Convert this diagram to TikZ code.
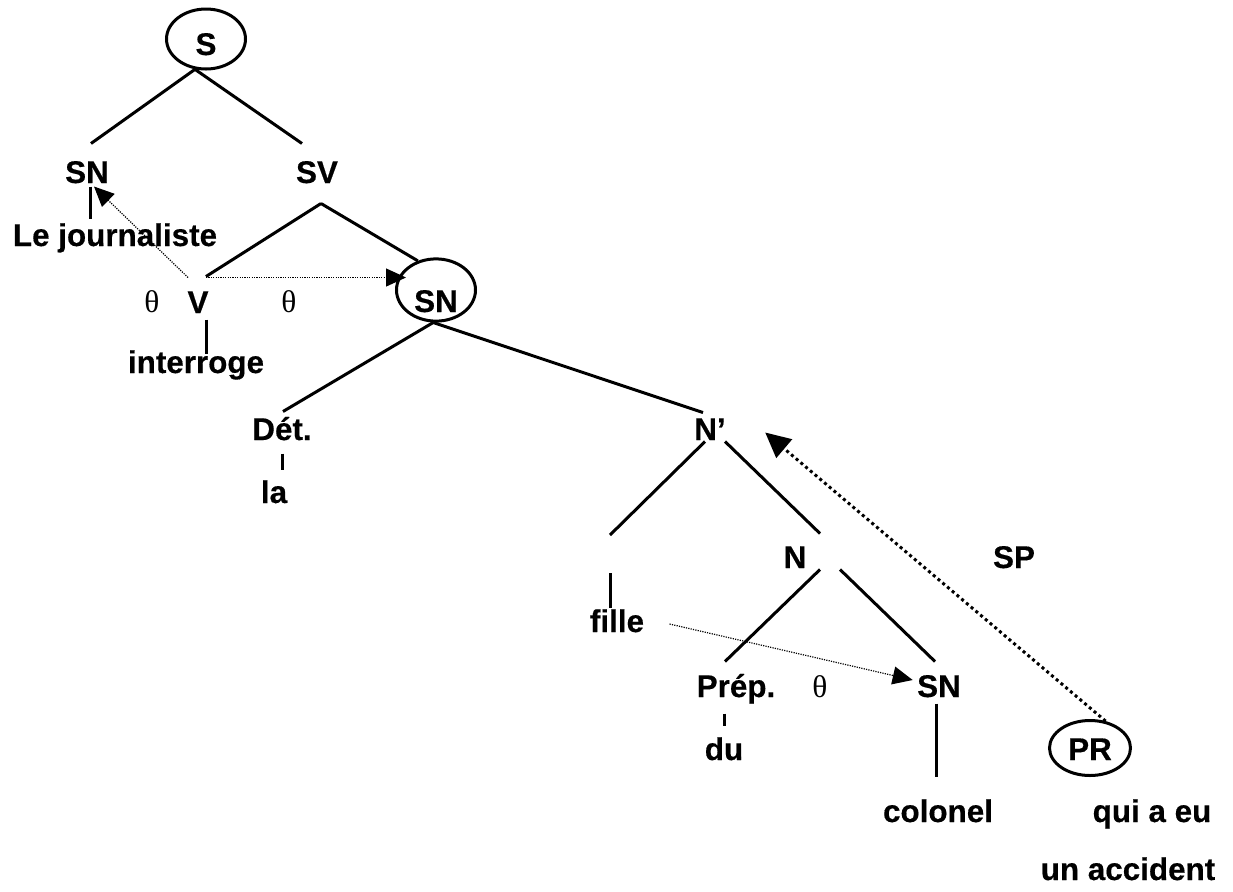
\documentclass[tikz,border=0pt]{standalone}
\usepackage{fontspec}
\setmainfont[BoldFeatures={FakeBold=0.4}]{Liberation Sans}
\newfontfamily\thetafont{Liberation Serif}
\usetikzlibrary{arrows.meta, shapes.geometric}

\begin{document}
\begin{tikzpicture}[x=0.5pt, y=-0.5pt, >={Triangle[length=10pt,width=9pt]}, line width=1.5pt]
        \tikzstyle{syn} = [font=\fontsize{15.7}{18}\selectfont\bfseries, inner sep=0pt, text height=11.5pt, text depth=0pt, anchor=base]
        \tikzstyle{circled} = [ellipse, draw, line width=1.5pt, inner sep=0pt, text depth=0pt, font=\fontsize{15.7}{18}\selectfont\bfseries]
        \tikzstyle{role} = [font=\fontsize{15.7}{18}\selectfont\thetafont, inner sep=0pt, anchor=base]
        \tikzstyle{thetalink} = [->, line width=0.6pt, dash pattern=on 0.6pt off 0.6pt]
        \tikzstyle{movelink} = [->, >={Triangle[length=12.5pt,width=12pt]}, line width=1.5pt, dash pattern=on 1.5pt off 1.6pt]

        \useasboundingbox (0,0) rectangle (1233,891);

        \node[circled, minimum width=39.5pt, minimum height=30pt, text height=18.6pt, text depth=2.6pt] (s) at (206,39) {S};
        \node[syn] (sn_1) at (87,183) {SN};
        \node[syn] (sv) at (317,183) {SV};
        \node[syn] (journaliste) at (115,246) {Le journaliste};
        \node[syn] (v) at (198,313) {V};
        \node[role] (theta_1) at (152,312) {θ};
        \node[role] (theta_2) at (289,312) {θ};
        \node[syn] (interroge) at (196,373) {interroge};
        \node[circled, minimum width=39.5pt, minimum height=30.5pt, text height=22pt] (sn_2) at (436,290) {SN};
        \node[syn] (det) at (282,440) {Dét.};
        \node[syn] (la) at (274,503) {la};
        \node[syn] (n_bar) at (710,440) {N’};
        \node[syn] (n) at (795,568) {N};
        \node[syn] (sp) at (1014,568) {SP};
        \node[syn] (fille) at (617,632) {fille};
        \node[syn] (prep) at (736,697) {Prép.};
        \node[role] (theta_3) at (820,697) {θ};
        \node[syn] (sn_3) at (939,697) {SN};
        \node[syn] (du) at (724,760) {du};
        \node[syn] (colonel) at (938,822) {colonel};
        \node[circled, minimum width=40.5pt, minimum height=27.5pt, text height=12pt] (pr) at (1090,748) {PR};
        \node[syn] (qui) at (1152,822) {qui a eu};
        \node[syn] (accident) at (1128,880) {un accident};
        \coordinate (nbar_l) at (610,535);

        % branches
        \draw (s.250) -- ([xshift=2pt,yshift=7.5pt]sn_1.north)
              (s.250) -- ([xshift=-7.5pt,yshift=7.5pt]sv.north);
        \draw ([xshift=2pt,yshift=-9.5pt]sv.south) -- ([xshift=4pt,yshift=6pt]v.north)
              ([xshift=2pt,yshift=-9.5pt]sv.south) -- (sn_2.122);
        \draw (sn_2.265) -- ([xshift=0.5pt,yshift=2pt]det.north)
              (sn_2.265) -- ([xshift=-3.5pt,yshift=1.5pt]n_bar.north);
        \draw ([xshift=-2.5pt]n_bar.south) -- (nbar_l)
              ([xshift=7.5pt]n_bar.south) -- ([xshift=12.5pt,yshift=5pt]n.north);
        \draw ([xshift=12.5pt]n.south) -- ([xshift=-5.5pt,yshift=5.5pt]prep.north)
              ([xshift=22.5pt]n.south) -- ([xshift=-2pt,yshift=5.5pt]sn_3.north);

        % words
        \draw[shorten <=1pt, shorten >=1.5pt] ([xshift=1.5pt]sn_1.south) -- ([xshift=1.5pt]sn_1.south |- journaliste.north);
        \draw[shorten <=2.5pt, shorten >=-2.5pt] ([xshift=4pt]v.south) -- ([xshift=4pt]v.south |- interroge.north);
        \draw[shorten <=6pt, shorten >=4.5pt] (det.south) -- (det.south |- la.north);
        \draw[shorten <=19pt] (nbar_l) -- ([xshift=-3.5pt]fille.north);
        \draw[shorten <=7.5pt, shorten >=5pt] ([xshift=-6pt]prep.south) -- ([xshift=-6pt]prep.south |- du.north);
        \draw[shorten <=2.5pt, shorten >=10.5pt] ([xshift=-1.5pt]sn_3.south) -- ([xshift=-1.5pt]sn_3.south |- colonel.north);

        % theta roles and movement
        \draw[thetalink] ([xshift=-5pt,yshift=5.5pt]v.north) -- ([xshift=3.5pt,yshift=-1pt]sn_1.south);
        \draw[thetalink, shorten >=-1.5pt] ([xshift=4pt,yshift=5.5pt]v.north) -- ([xshift=4pt,yshift=5.5pt]v.north -| sn_2.west);
        \draw[thetalink] ([xshift=12pt,yshift=-1.75pt]fille.east) -- ([xshift=-1.5pt,yshift=2.75pt]sn_3.west);
        \draw[movelink] (pr.60) -- ([xshift=19pt,yshift=-2pt]n_bar.east);
    \end{tikzpicture}
\end{document}
